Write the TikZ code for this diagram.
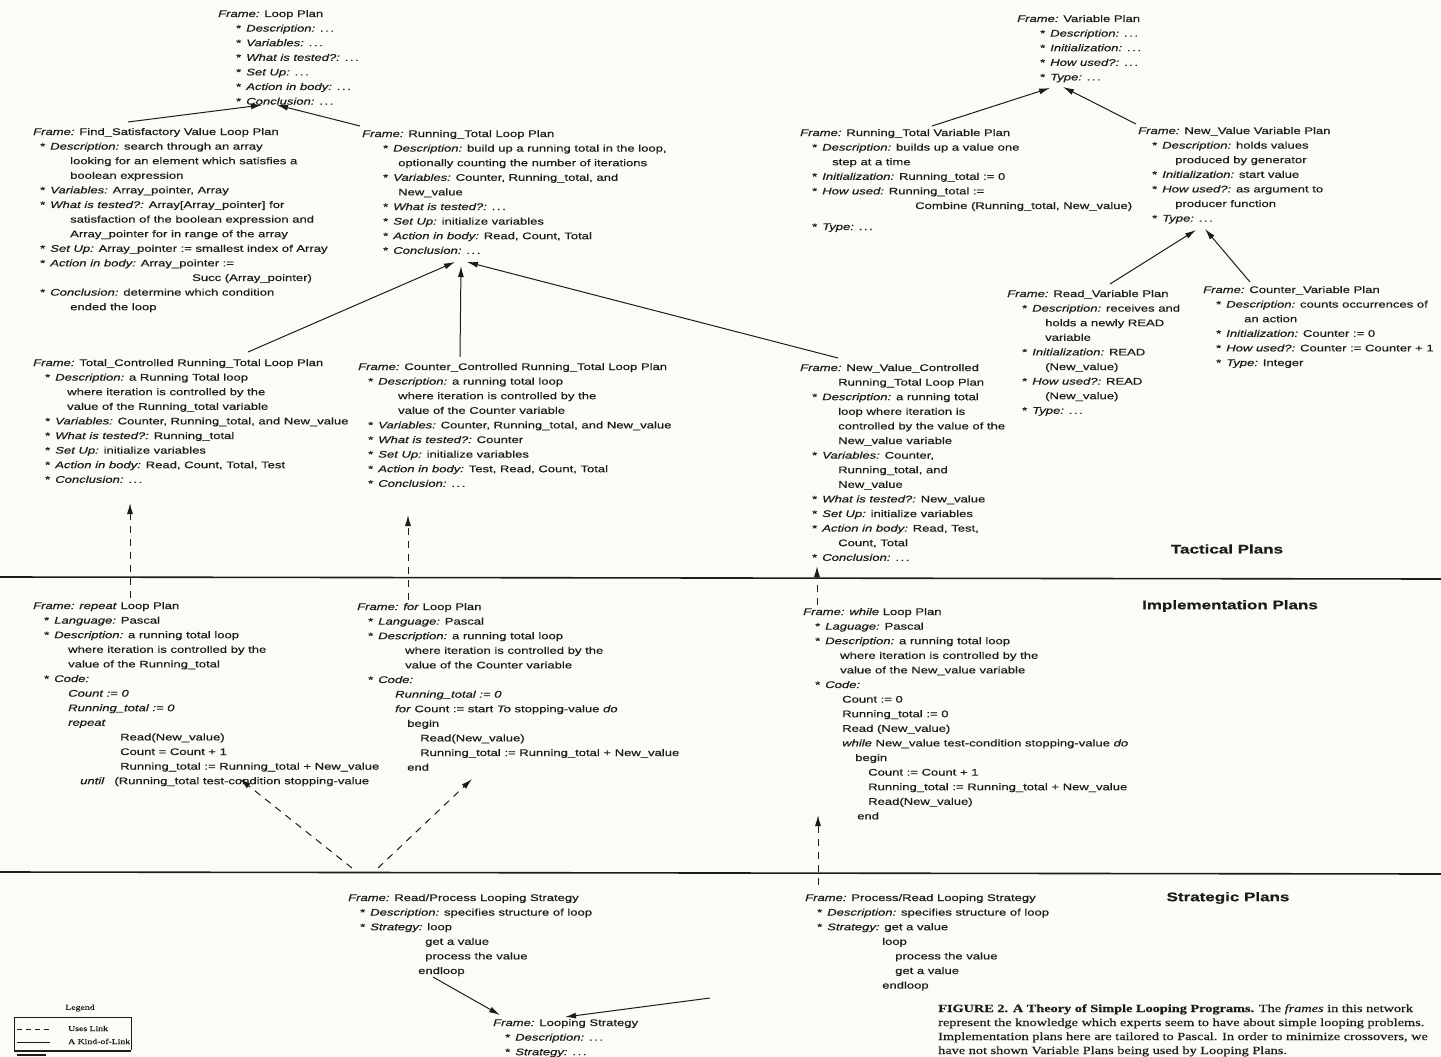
\documentclass[tikz,border=0pt]{standalone}
\usepackage{fontspec}
\setmainfont{Liberation Sans}[FakeStretch=1.36,FakeBold=0.5]
\newfontfamily\capfont{Liberation Serif}[FakeStretch=1.3,FakeBold=0.4]
\usetikzlibrary{arrows.meta,calc}
\definecolor{ink}{HTML}{1C1C1C}
\definecolor{paper}{HTML}{FCFBF8}
\newcommand\fld[1]{\textit{#1}}
\newcommand\dd{.\,.\,.}
\newcommand\myl[2]{\hbox{\kern#1pt\relax #2}}
\newcommand\bu[2][12]{\hbox{\kern#1pt\relax *\kern5pt #2}}
\newcommand\frm[1]{\vtop{\baselineskip=14.6pt\lineskiplimit=-\maxdimen\lineskip=0pt #1}}
\begin{document}
\begin{tikzpicture}[x=1pt,y=-1pt,
  plan/.style={inner sep=0pt, anchor=base west, text=ink, font=\fontsize{9.6}{14.6}\selectfont},
  kind/.style={draw=ink, line width=1pt, -{Latex[length=11pt,width=6pt]}},
  uses/.style={kind, dash pattern=on 7pt off 6pt},
  level/.style={inner sep=0pt, text=ink, font=\fontsize{12.5}{14}\selectfont\bfseries},
  sep/.style={draw=ink, line width=1.6pt},
  legtext/.style={anchor=base west, inner sep=0pt, text=ink, font=\capfont\fontsize{7.5}{9}\selectfont},
  captext/.style={inner sep=0pt, anchor=base west, text=ink, font=\capfont\fontsize{11}{14}\selectfont}]
\fill[paper] (0,0) rectangle (1441,1057);
\useasboundingbox (0,0) rectangle (1441,1057);

% ---------------- Tactical plans ----------------
\node[plan] (lp) at (218,17) {\frm{%
 \myl{0}{\fld{Frame:} Loop Plan}
 \bu[18]{\fld{Description:} \dd}
 \bu[18]{\fld{Variables:} \dd}
 \bu[18]{\fld{What is tested?:} \dd}
 \bu[18]{\fld{Set Up:} \dd}
 \bu[18]{\fld{Action in body:} \dd}
 \bu[18]{\fld{Conclusion:} \dd}}};

\node[plan] (fs) at (33,135) {\frm{%
 \myl{0}{\fld{Frame:} Find\_Satisfactory Value Loop Plan}
 \bu[7]{\fld{Description:} search through an array}
 \myl{37}{looking for an element which satisfies a}
 \myl{37}{boolean expression}
 \bu[7]{\fld{Variables:} Array\_pointer, Array}
 \bu[7]{\fld{What is tested?:} Array[Array\_pointer] for}
 \myl{37}{satisfaction of the boolean expression and}
 \myl{37}{Array\_pointer for in range of the array}
 \bu[7]{\fld{Set Up:} Array\_pointer := smallest index of Array}
 \bu[7]{\fld{Action in body:} Array\_pointer :=}
 \myl{159}{Succ (Array\_pointer)}
 \bu[7]{\fld{Conclusion:} determine which condition}
 \myl{37}{ended the loop}}};

\node[plan] (rtl) at (362,137) {\frm{%
 \myl{0}{\fld{Frame:} Running\_Total Loop Plan}
 \bu[21]{\fld{Description:} build up a running total in the loop,}
 \myl{36}{optionally counting the number of iterations}
 \bu[21]{\fld{Variables:} Counter, Running\_total, and}
 \myl{36}{New\_value}
 \bu[21]{\fld{What is tested?:} \dd}
 \bu[21]{\fld{Set Up:} initialize variables}
 \bu[21]{\fld{Action in body:} Read, Count, Total}
 \bu[21]{\fld{Conclusion:} \dd}}};

\node[plan] (tc) at (33,366) {\frm{%
 \myl{0}{\fld{Frame:} Total\_Controlled Running\_Total Loop Plan}
 \bu[12]{\fld{Description:} a Running Total loop}
 \myl{34}{where iteration is controlled by the}
 \myl{34}{value of the Running\_total variable}
 \bu[12]{\fld{Variables:} Counter, Running\_total, and New\_value}
 \bu[12]{\fld{What is tested?:} Running\_total}
 \bu[12]{\fld{Set Up:} initialize variables}
 \bu[12]{\fld{Action in body:} Read, Count, Total, Test}
 \bu[12]{\fld{Conclusion:} \dd}}};

\node[plan] (cc) at (358,370) {\frm{%
 \myl{0}{\fld{Frame:} Counter\_Controlled Running\_Total Loop Plan}
 \bu[10]{\fld{Description:} a running total loop}
 \myl{40}{where iteration is controlled by the}
 \myl{40}{value of the Counter variable}
 \bu[10]{\fld{Variables:} Counter, Running\_total, and New\_value}
 \bu[10]{\fld{What is tested?:} Counter}
 \bu[10]{\fld{Set Up:} initialize variables}
 \bu[10]{\fld{Action in body:} Test, Read, Count, Total}
 \bu[10]{\fld{Conclusion:} \dd}}};

\node[plan] (nvc) at (800,371) {\frm{%
 \myl{0}{\fld{Frame:} New\_Value\_Controlled}
 \myl{38}{Running\_Total Loop Plan}
 \bu[12]{\fld{Description:} a running total}
 \myl{38}{loop where iteration is}
 \myl{38}{controlled by the value of the}
 \myl{38}{New\_value variable}
 \bu[12]{\fld{Variables:} Counter,}
 \myl{38}{Running\_total, and}
 \myl{38}{New\_value}
 \bu[12]{\fld{What is tested?:} New\_value}
 \bu[12]{\fld{Set Up:} initialize variables}
 \bu[12]{\fld{Action in body:} Read, Test,}
 \myl{38}{Count, Total}
 \bu[12]{\fld{Conclusion:} \dd}}};

\node[plan] (vp) at (1017,22) {\frm{%
 \myl{0}{\fld{Frame:} Variable Plan}
 \bu[23]{\fld{Description:} \dd}
 \bu[23]{\fld{Initialization:} \dd}
 \bu[23]{\fld{How used?:} \dd}
 \bu[23]{\fld{Type:} \dd}}};

\node[plan] (rtv) at (800,136) {\frm{%
 \myl{0}{\fld{Frame:} Running\_Total Variable Plan}
 \bu[12]{\fld{Description:} builds up a value one}
 \myl{32}{step at a time}
 \bu[12]{\fld{Initialization:} Running\_total := 0}
 \bu[12]{\fld{How used:} Running\_total :=}
 \myl{115}{Combine (Running\_total, New\_value)}
 \vskip 6.4pt
 \bu[12]{\fld{Type:} \dd}}};

\node[plan] (nvv) at (1138,134) {\frm{%
 \myl{0}{\fld{Frame:} New\_Value Variable Plan}
 \bu[14]{\fld{Description:} holds values}
 \myl{37}{produced by generator}
 \bu[14]{\fld{Initialization:} start value}
 \bu[14]{\fld{How used?:} as argument to}
 \myl{37}{producer function}
 \bu[14]{\fld{Type:} \dd}}};

\node[plan] (rv) at (1007,297) {\frm{%
 \myl{0}{\fld{Frame:} Read\_Variable Plan}
 \bu[15]{\fld{Description:} receives and}
 \myl{38}{holds a newly READ}
 \myl{38}{variable}
 \bu[15]{\fld{Initialization:} READ}
 \myl{38}{(New\_value)}
 \bu[15]{\fld{How used?:} READ}
 \myl{38}{(New\_value)}
 \bu[15]{\fld{Type:} \dd}}};

\node[plan] (cv) at (1203,293) {\frm{%
 \myl{0}{\fld{Frame:} Counter\_Variable Plan}
 \bu[13]{\fld{Description:} counts occurrences of}
 \myl{41}{an action}
 \bu[13]{\fld{Initialization:} Counter := 0}
 \bu[13]{\fld{How used?:} Counter := Counter + 1}
 \bu[13]{\fld{Type:} Integer}}};

% ---------------- Implementation plans ----------------
\node[plan] (rep) at (33,609) {\frm{%
 \myl{0}{\fld{Frame: repeat} Loop Plan}
 \bu[11]{\fld{Language:} Pascal}
 \bu[11]{\fld{Description:} a running total loop}
 \myl{35}{where iteration is controlled by the}
 \myl{35}{value of the Running\_total}
 \bu[11]{\fld{Code:}}
 \myl{35}{\fld{Count := 0}}
 \myl{35}{\fld{Running\_total := 0}}
 \myl{35}{\fld{repeat}}
 \myl{87}{Read(New\_value)}
 \myl{87}{Count = Count + 1}
 \myl{87}{Running\_total := Running\_total + New\_value}
 \myl{47}{\fld{until}\kern10pt(Running\_total test-condition stopping-value}}};

\node[plan] (for) at (357,610) {\frm{%
 \myl{0}{\fld{Frame: for} Loop Plan}
 \bu[11]{\fld{Language:} Pascal}
 \bu[11]{\fld{Description:} a running total loop}
 \myl{48}{where iteration is controlled by the}
 \myl{48}{value of the Counter variable}
 \bu[11]{\fld{Code:}}
 \myl{38}{\fld{Running\_total := 0}}
 \myl{38}{\fld{for} Count := start \fld{To} stopping-value \fld{do}}
 \myl{50}{begin}
 \myl{63}{Read(New\_value)}
 \myl{63}{Running\_total := Running\_total + New\_value}
 \myl{50}{end}}};

\node[plan] (whl) at (803,615) {\frm{%
 \myl{0}{\fld{Frame: while} Loop Plan}
 \bu[12]{\fld{Laguage:} Pascal}
 \bu[12]{\fld{Description:} a running total loop}
 \myl{37}{where iteration is controlled by the}
 \myl{37}{value of the New\_value variable}
 \bu[12]{\fld{Code:}}
 \myl{39}{Count := 0}
 \myl{39}{Running\_total := 0}
 \myl{39}{Read (New\_value)}
 \myl{39}{\fld{while} New\_value test-condition stopping-value \fld{do}}
 \myl{52}{begin}
 \myl{65}{Count := Count + 1}
 \myl{65}{Running\_total := Running\_total + New\_value}
 \myl{65}{Read(New\_value)}
 \myl{54}{end}}};

% ---------------- Strategic plans ----------------
\node[plan] (rp) at (348,901) {\frm{%
 \myl{0}{\fld{Frame:} Read/Process Looping Strategy}
 \bu[12]{\fld{Description:} specifies structure of loop}
 \bu[12]{\fld{Strategy:} loop}
 \myl{77}{get a value}
 \myl{77}{process the value}
 \myl{70}{endloop}}};

\node[plan] (pr) at (805,901) {\frm{%
 \myl{0}{\fld{Frame:} Process/Read Looping Strategy}
 \bu[12]{\fld{Description:} specifies structure of loop}
 \bu[12]{\fld{Strategy:} get a value}
 \myl{77}{loop}
 \myl{90}{process the value}
 \myl{90}{get a value}
 \myl{77}{endloop}}};

\node[plan] (ls) at (493,1026) {\frm{%
 \myl{0}{\fld{Frame:} Looping Strategy}
 \bu[12]{\fld{Description:} \dd}
 \bu[12]{\fld{Strategy:} \dd}}};

% ---------------- level separators and titles ----------------
\draw[sep] (0,577) -- (1441,579);
\draw[sep] (0,872) -- (1441,874);
\node[level] (tac) at (1227,549) {Tactical Plans};
\node[level] (imp) at (1230,606) {Implementation Plans};
\node[level] (str) at (1228,898) {Strategic Plans};

% ---------------- A-Kind-Of links ----------------
\draw[kind] ($(fs.base west)+(95,-13)$) -- ($(lp.base west)+(44,88)$);
\draw[kind] ($(rtl.base west)+(-2,-11)$) -- ($(lp.base west)+(59,88)$);
\draw[kind] ($(tc.base west)+(215,-14)$) -- ($(rtl.base west)+(93,125)$);
\draw[kind] ($(cc.base west)+(102,-13)$) -- ($(rtl.base west)+(99,129)$);
\draw[kind] ($(nvc.base west)+(38,-13)$) -- ($(rtl.base west)+(105,125)$);
\draw[kind] ($(rtv.base west)+(132,-10)$) -- ($(vp.base west)+(33,66)$);
\draw[kind] ($(nvv.base west)+(-2,-10)$) -- ($(vp.base west)+(46,65)$);
\draw[kind] ($(rv.base west)+(103,-13)$) -- ($(nvv.base west)+(58,96)$);
\draw[kind] ($(cv.base west)+(47,-11)$) -- ($(nvv.base west)+(67,95)$);
\draw[kind] ($(rp.base west)+(85,76)$) -- ($(ls.base west)+(7,-11)$);
\draw[kind] ($(pr.base west)+(-95,97)$) -- ($(ls.base west)+(72,-9)$);

% ---------------- Uses links ----------------
\draw[uses] ($(rep.base west)+(97,-11)$) -- ($(tc.base west)+(97,137)$);
\draw[uses] ($(for.base west)+(51,-10)$) -- ($(cc.base west)+(50,145)$);
\draw[uses] ($(whl.base west)+(14,-10)$) -- ($(nvc.base west)+(17,195)$);
\draw[uses] ($(rp.base west)+(4,-33)$) -- ($(rep.base west)+(207,170)$);
\draw[uses] ($(rp.base west)+(30,-33)$) -- ($(for.base west)+(115,169)$);
\draw[uses] ($(pr.base west)+(13,-16)$) -- ($(whl.base west)+(15,200)$);

% ---------------- Legend ----------------
\node[inner sep=0pt, text=ink, font=\capfont\fontsize{7.5}{9}\selectfont] (lgt) at (80,1008) {Legend};
\draw[ink, line width=0.7pt] (14,1017) -- (131,1017) -- (131,1050);
\draw[ink, line width=0.7pt] (14,1017) -- (14,1050);
\draw[ink, line width=0.9pt, dash pattern=on 5pt off 4pt] (17,1029) -- (50,1029);
\node[legtext] (lu) at (68,1031) {Uses Link};
\draw[ink, line width=0.9pt] (17,1042) -- (50,1042);
\node[legtext] (lk) at (68,1044) {A Kind-of-Link};
\draw[ink, line width=1.4pt] (14,1051) -- (131,1051);
\draw[ink, line width=1.2pt] (17,1055) -- (46,1055);

% ---------------- Caption ----------------
\node[captext] (capt) at (938,1012) {\vtop{\baselineskip=14pt\lineskiplimit=-\maxdimen
 \hbox{\textbf{FIGURE 2. A Theory of Simple Looping Programs.} The \textit{frames} in this network}
 \hbox{represent the knowledge which experts seem to have about simple looping problems.}
 \hbox{Implementation plans here are tailored to Pascal. In order to minimize crossovers, we}
 \hbox{have not shown Variable Plans being used by Looping Plans.}}};
\end{tikzpicture}
\end{document}
